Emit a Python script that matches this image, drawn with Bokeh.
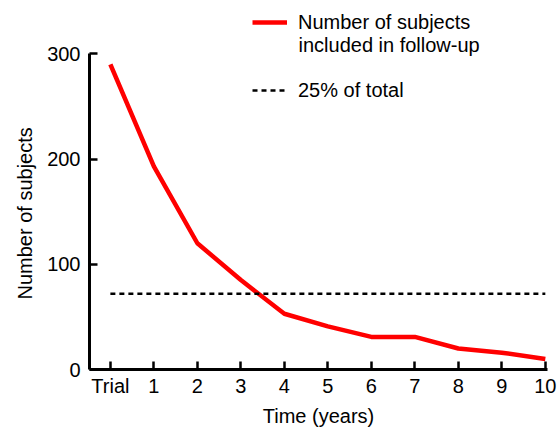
from bokeh.plotting import figure
from bokeh.models import Range1d, FixedTicker, Legend, LegendItem, Label, Title
from bokeh.embed import file_html
from bokeh.resources import INLINE

# Data
x_positions = [0, 1, 2, 3, 4, 5, 6, 7, 8, 9, 10]
x_labels = ["Trial", "1", "2", "3", "4", "5", "6", "7", "8", "9", "10"]
subjects = [290, 193, 120, 85, 53, 41, 31, 31, 20, 16, 10]
threshold = [72, 72, 72, 72, 72, 72, 72, 72, 72, 72, 72]
y_ticks = [0, 100, 200, 300]

FONT = "Liberation Sans"
FS = "20px"

p = figure(width=558, height=429, output_backend="svg", toolbar_location=None,
           x_range=Range1d(-0.48, 10.05), y_range=Range1d(0, 350.7),
           min_border_left=89, min_border_right=11, min_border_top=0, min_border_bottom=59)
p.outline_line_color = None
p.grid.visible = False
p.background_fill_color = "white"
p.border_fill_color = "white"

r1 = p.line(x_positions, subjects, line_color="#ff0000", line_width=4.5, line_join="round")
r2 = p.line(x_positions, threshold, line_color="black", line_width=2.5, line_dash="5 4")

for ax in (p.xaxis[0], p.yaxis[0]):
    ax.axis_line_width = 3
    ax.major_tick_line_width = 2.5
    ax.major_tick_in = 8
    ax.major_tick_out = 0
    ax.minor_tick_line_color = None
    ax.major_label_text_font = FONT
    ax.major_label_text_font_size = FS
    ax.major_label_text_color = "black"
    ax.axis_label_text_font = FONT
    ax.axis_label_text_font_size = FS
    ax.axis_label_text_font_style = "normal"
    ax.axis_label_text_color = "black"

p.xaxis.ticker = FixedTicker(ticks=x_positions)
p.xaxis.major_label_overrides = {x: l for x, l in zip(x_positions, x_labels)}
p.xaxis.axis_label = "Time (years)"
p.xaxis.major_label_standoff = 5
p.xaxis.axis_label_standoff = 5

p.yaxis.ticker = FixedTicker(ticks=y_ticks)
p.yaxis.bounds = (0, 300)
p.yaxis.major_label_standoff = 9

ytitle = Title(text="Number of subjects", align="left", offset=70, standoff=18,
               text_font=FONT, text_font_size=FS, text_font_style="normal", text_color="black")
p.add_layout(ytitle, "left")

legend = Legend(items=[
    LegendItem(label="Number of subjects", renderers=[r1]),
    LegendItem(label="25% of total", renderers=[r2]),
], location=(163, 267))
legend.padding = 0
legend.margin = 0
legend.border_line_alpha = 0
legend.background_fill_alpha = 0
legend.glyph_width = 35
legend.glyph_height = 24
legend.label_height = 24
legend.label_standoff = 11
legend.spacing = 44
legend.label_text_font = FONT
legend.label_text_font_size = FS
legend.label_text_color = "black"
p.add_layout(legend, "center")

second_line = Label(x=209, y=325, x_units="screen", y_units="screen",
                    text="included in follow-up", text_font=FONT, text_font_size=FS,
                    text_color="black", text_baseline="middle", text_align="left")
p.add_layout(second_line)

open("out.html", "w").write(file_html(p, INLINE))
